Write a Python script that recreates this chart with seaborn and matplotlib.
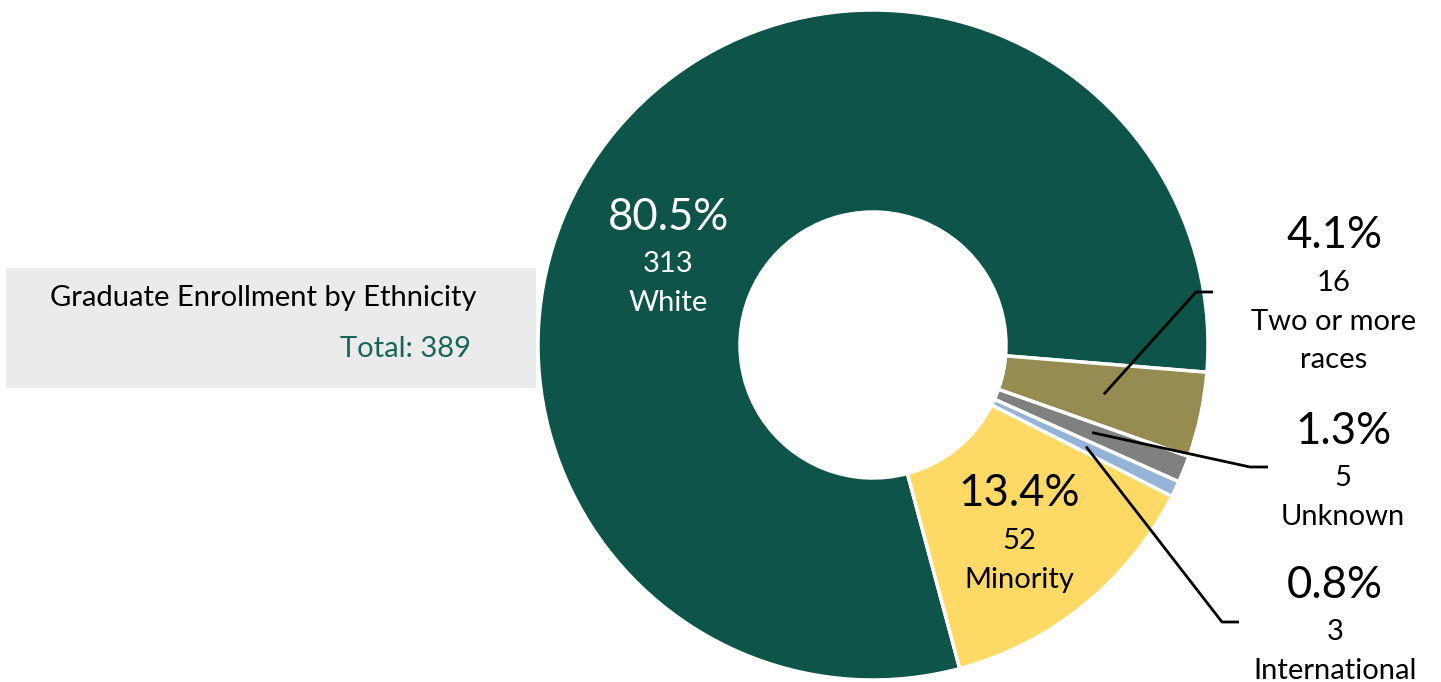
import matplotlib
matplotlib.use("Agg")
import matplotlib.pyplot as plt
import matplotlib.patches as mpatches
import seaborn as sns
import numpy as np

# data
groups = ['White', 'Two or more\nraces', 'Unknown', 'International', 'Minority']
counts = [313, 16, 5, 3, 52]
pcts = ['80.5%', '4.1%', '1.3%', '0.8%', '13.4%']
colors = ['#0e5449', '#968c52', '#808080', '#95b3d7', '#ffd966']
explode = [0, 0.018, 0.018, 0.018, 0]
total = sum(counts)

W, H = 1441, 682
sns.set_style("white")
plt.rcParams['font.family'] = ['Lato', 'DejaVu Sans']

fig = plt.figure(figsize=(W / 100, H / 100), dpi=100)
ax = fig.add_axes([0, 0, 1, 1])

SMALL = 21
BIG = 31.5


def fy(py):
    # pixel row -> data y
    return H - py


cx, cy, R, r_in = 873, fy(345), 335, 133
wedges, _ = ax.pie(counts, colors=colors, startangle=-75, counterclock=False,
                   radius=R, center=(cx, cy), explode=explode,
                   wedgeprops=dict(width=R - r_in, edgecolor='white', linewidth=2.5))

# title box
ax.add_patch(mpatches.Rectangle((6, fy(388)), 530, 120, facecolor='#ebebeb',
                                edgecolor='none', zorder=0))
ax.text(263, fy(298), 'Graduate Enrollment by Ethnicity', ha='center', va='center',
        fontsize=SMALL, color='black')
ax.text(471, fy(349), f'Total: {total}', ha='right', va='center',
        fontsize=SMALL, color='#1a6555')


def label_block(i, px, py, col):
    ax.text(px, fy(py), pcts[i], ha='center', va='center', fontsize=BIG, color=col)
    ax.text(px, fy(py + 47), str(counts[i]), ha='center', va='center', fontsize=SMALL, color=col)
    for k, line in enumerate(groups[i].split('\n')):
        ax.text(px, fy(py + 86 + 38 * k), line, ha='center', va='center',
                fontsize=SMALL, color=col)


# inside labels
label_block(0, 668, 217, 'white')
label_block(4, 1019, 494, 'black')

# outside labels with leader lines
outside = {1: ((1334, 236), (1196, 292), (1213, 292)),
           2: ((1343, 431), (1250, 467), (1268, 467)),
           3: ((1335, 585), (1222, 622), (1239, 622))}
for i, ((px, py), (kx, ky), (ex, ey)) in outside.items():
    w = wedges[i]
    mid = np.deg2rad((w.theta1 + w.theta2) / 2)
    ox, oy = w.center
    x0 = ox + 236 * np.cos(mid)
    y0 = oy + 236 * np.sin(mid)
    ax.plot([x0, kx, ex], [y0, fy(ky), fy(ey)], color='black', lw=2, solid_capstyle='butt')
    label_block(i, px, py, 'black')

ax.set_xlim(0, W)
ax.set_ylim(0, H)
ax.set_aspect('equal')
ax.axis('off')

fig.savefig('out.png', dpi=100)
